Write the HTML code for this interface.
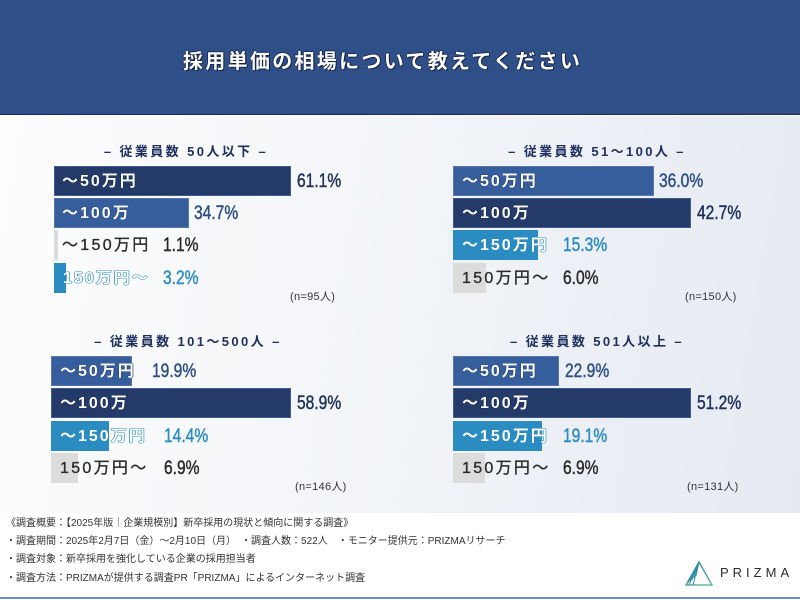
<!DOCTYPE html>
<html lang="ja">
<head>
<meta charset="utf-8">
<style>
*{margin:0;padding:0;box-sizing:border-box;}
html,body{width:800px;height:600px;overflow:hidden;background:#fff;}
body{position:relative;font-family:"Liberation Sans","Noto Sans CJK JP",sans-serif;}
.hdr{position:absolute;left:0;top:0;width:800px;height:115px;background:#2f4f88;border-bottom:1px solid #1a2b58;}
.ttl{position:absolute;left:183px;top:47px;height:30px;line-height:30px;font-size:20px;font-weight:bold;color:#fff;letter-spacing:2.3px;white-space:nowrap;
 text-shadow:1px 1px 0 #16264d,-1px 0 0 #1c2d58,0 -1px 0 #1c2d58,1px 0 0 #16264d;}
.bg{position:absolute;left:0;top:116px;width:800px;height:397px;background:linear-gradient(100deg,#fdfdfe 0%,#f4f6f9 40%,#e5eaf2 100%);}
.pt{position:absolute;width:400px;height:20px;line-height:20px;text-align:center;font-size:13px;font-weight:bold;color:#1f3060;letter-spacing:2.4px;white-space:nowrap;}
.bar{position:absolute;height:30px;}
.navy{background:#243a69;box-shadow:inset 0 0 0 1px #3f5b90;}
.med{background:#365d9c;box-shadow:inset 0 0 0 1px #5877ad;}
.teal{background:#2b8cc2;}
.gray{background:#dcdcdc;}
.lbl{position:absolute;height:30px;line-height:31px;font-size:16px;font-weight:bold;letter-spacing:2px;white-space:nowrap;}
.lN{color:#fff;text-shadow:0.7px 0 #1b2d57,-0.7px 0 #1b2d57,0 0.7px #1b2d57,0 -0.7px #1b2d57;}
.lM{color:#fff;text-shadow:0.7px 0 #274a83,-0.7px 0 #274a83,0 0.7px #274a83,0 -0.7px #274a83;}
.lT{color:#fff;text-shadow:0.7px 0 #2388bf,-0.7px 0 #2388bf,0 0.7px #2388bf,0 -0.7px #2388bf;}
.lG{color:#2b2b2b;font-weight:normal;letter-spacing:2.3px;-webkit-text-stroke:0.35px #2b2b2b;}
.val{position:absolute;height:30px;line-height:31px;font-size:19px;font-weight:normal;font-family:"Liberation Sans",sans-serif;white-space:nowrap;transform:scaleX(0.82);transform-origin:0 50%;-webkit-text-stroke:0.45px currentColor;}
.vN{color:#1e2f5a;}
.vM{color:#2e4e86;}
.vT{color:#2b8cc4;}
.vG{color:#2a2a2a;}
.n{position:absolute;height:14px;line-height:14px;font-size:11px;color:#333;white-space:nowrap;letter-spacing:0.3px;}
.ft{position:absolute;left:6px;height:14px;line-height:14px;font-size:10px;color:#333;white-space:nowrap;font-family:"Liberation Sans","Noto Sans CJK JP",sans-serif;}
.bl{position:absolute;left:0;top:597px;width:800px;height:2px;background:#6f8fc3;}
.logo{position:absolute;left:720px;top:565px;height:16px;line-height:16px;font-size:13px;color:#2a2a2a;letter-spacing:4px;font-family:"Liberation Sans",sans-serif;}
</style>
</head>
<body>
<div class="hdr"></div>
<div class="ttl">採用単価の相場について教えてください</div>
<div class="bg"></div>

<!-- Panel 1 -->
<div class="pt" style="left:-14px;top:142px;">– 従業員数 50人以下 –</div>
<div class="bar navy" style="left:54px;top:166px;width:237px;"></div>
<div class="lbl lN" style="left:62px;top:166px;">～50万円</div>
<div class="val vN" style="left:297px;top:166px;">61.1%</div>
<div class="bar med" style="left:54px;top:198px;width:135px;"></div>
<div class="lbl lM" style="left:62px;top:198px;">～100万</div>
<div class="val vM" style="left:194px;top:198px;">34.7%</div>
<div class="bar gray" style="left:54px;top:230px;width:4px;"></div>
<div class="lbl lG" style="left:62px;top:230px;">～150万円</div>
<div class="val vG" style="left:163px;top:230px;">1.1%</div>
<div class="bar teal" style="left:54px;top:263px;width:12px;"></div>
<div class="lbl lT" style="left:63px;top:263px;">150万円～</div>
<div class="val vT" style="left:163px;top:263px;">3.2%</div>
<div class="n" style="left:290px;top:290px;">(n=95人)</div>

<!-- Panel 2 -->
<div class="pt" style="left:397px;top:142px;">– 従業員数 51～100人 –</div>
<div class="bar med" style="left:453px;top:166px;width:201px;"></div>
<div class="lbl lM" style="left:462px;top:166px;">～50万円</div>
<div class="val vM" style="left:659px;top:166px;">36.0%</div>
<div class="bar navy" style="left:453px;top:198px;width:238px;"></div>
<div class="lbl lN" style="left:462px;top:198px;">～100万</div>
<div class="val vN" style="left:697px;top:198px;">42.7%</div>
<div class="bar teal" style="left:453px;top:230px;width:85px;"></div>
<div class="lbl lT" style="left:462px;top:230px;">～150万円</div>
<div class="val vT" style="left:563px;top:230px;">15.3%</div>
<div class="bar gray" style="left:453px;top:263px;width:33px;"></div>
<div class="lbl lG" style="left:462px;top:263px;">150万円～</div>
<div class="val vG" style="left:563px;top:263px;">6.0%</div>
<div class="n" style="left:685px;top:290px;">(n=150人)</div>

<!-- Panel 3 -->
<div class="pt" style="left:-12px;top:332px;">– 従業員数 101～500人 –</div>
<div class="bar med" style="left:51px;top:356px;width:81px;"></div>
<div class="lbl lM" style="left:60px;top:356px;">～50万円</div>
<div class="val vM" style="left:152px;top:356px;">19.9%</div>
<div class="bar navy" style="left:51px;top:388px;width:240px;"></div>
<div class="lbl lN" style="left:60px;top:388px;">～100万</div>
<div class="val vN" style="left:297px;top:388px;">58.9%</div>
<div class="bar teal" style="left:51px;top:421px;width:58px;"></div>
<div class="lbl lT" style="left:60px;top:421px;">～150万円</div>
<div class="val vT" style="left:164px;top:421px;">14.4%</div>
<div class="bar gray" style="left:51px;top:453px;width:27px;"></div>
<div class="lbl lG" style="left:60px;top:453px;">150万円～</div>
<div class="val vG" style="left:164px;top:453px;">6.9%</div>
<div class="n" style="left:295px;top:480px;">(n=146人)</div>

<!-- Panel 4 -->
<div class="pt" style="left:397px;top:332px;">– 従業員数 501人以上 –</div>
<div class="bar med" style="left:453px;top:356px;width:106px;"></div>
<div class="lbl lM" style="left:462px;top:356px;">～50万円</div>
<div class="val vM" style="left:565px;top:356px;">22.9%</div>
<div class="bar navy" style="left:453px;top:388px;width:238px;"></div>
<div class="lbl lN" style="left:462px;top:388px;">～100万</div>
<div class="val vN" style="left:697px;top:388px;">51.2%</div>
<div class="bar teal" style="left:453px;top:421px;width:89px;"></div>
<div class="lbl lT" style="left:462px;top:421px;">～150万円</div>
<div class="val vT" style="left:563px;top:421px;">19.1%</div>
<div class="bar gray" style="left:453px;top:453px;width:32px;"></div>
<div class="lbl lG" style="left:462px;top:453px;">150万円～</div>
<div class="val vG" style="left:563px;top:453px;">6.9%</div>
<div class="n" style="left:687px;top:480px;">(n=131人)</div>

<!-- Footer -->
<div class="ft" style="top:517px;">《調査概要：【2025年版｜企業規模別】新卒採用の現状と傾向に関する調査》</div>
<div class="ft" style="top:535px;">・調査期間：2025年2月7日（金）～2月10日（月）　・調査人数：522人　・モニター提供元：PRIZMAリサーチ</div>
<div class="ft" style="top:553px;">・調査対象：新卒採用を強化している企業の採用担当者</div>
<div class="ft" style="top:572px;">・調査方法：PRIZMAが提供する調査PR「PRIZMA」によるインターネット調査</div>

<svg style="position:absolute;left:684px;top:560px;" width="32" height="28" viewBox="0 0 32 28">
 <defs>
  <linearGradient id="g" x1="0" y1="0" x2="1" y2="1">
   <stop offset="0" stop-color="#2a7fa0"/>
   <stop offset="1" stop-color="#4cb38c"/>
  </linearGradient>
 </defs>
 <polygon points="15,2 2,25 28,25" fill="none" stroke="url(#g)" stroke-width="1.3"/>
 <g stroke="#2f8fa3" stroke-width="0.9">
  <line x1="15" y1="2" x2="4" y2="23"/>
  <line x1="15" y1="2" x2="6" y2="21"/>
  <line x1="15" y1="2" x2="8" y2="20"/>
  <line x1="15" y1="2" x2="10" y2="18"/>
  <line x1="15" y1="2" x2="12" y2="16"/>
  <line x1="15" y1="2" x2="5" y2="25"/>
  <line x1="15" y1="2" x2="9" y2="25"/>
 </g>
</svg>
<div class="logo">PRIZMA</div>
<div class="bl"></div>
</body>
</html>
